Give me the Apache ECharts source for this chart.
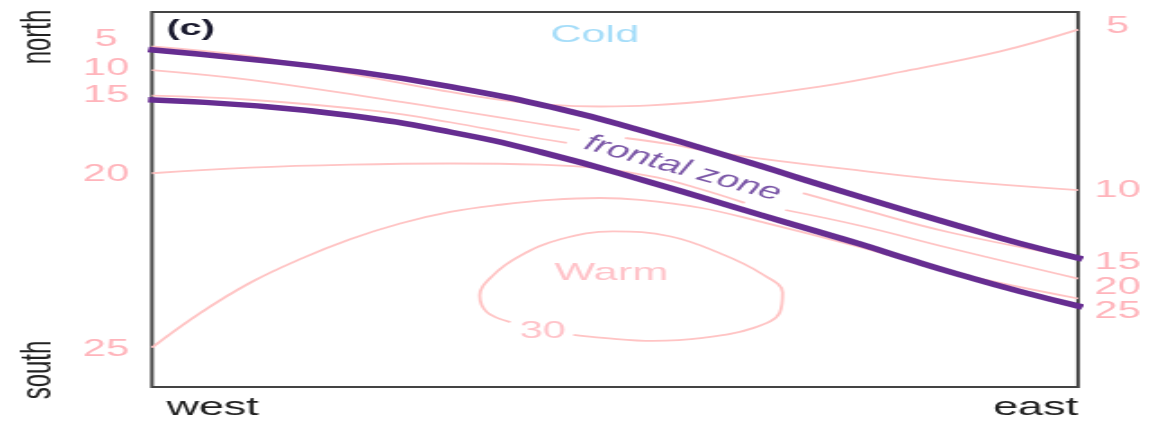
<!DOCTYPE html>
<html>
<head>
<meta charset="utf-8">
<script src="https://cdn.jsdelivr.net/npm/echarts@6/dist/echarts.min.js"></script>
<style>
  html, body { margin: 0; padding: 0; background: #fff; overflow: hidden; }
  /* the source figure is stretched sideways, so draw narrow and stretch the same way */
  #chart { width: 645px; height: 421px; transform: scaleX(1.8); transform-origin: 0 0; }
</style>
</head>
<body>
<div id="chart"></div>
<script>
// x: west (0) -> east (100), y: north (0) -> south (100)
const c5 = [[0, 9.2], [10.6, 11.8], [18.1, 15.0], [26.8, 18.9], [32.2, 21.3], [37.6, 23.4], [42.7, 24.7],
  [48.4, 25.2], [53.8, 24.9], [61.3, 23.4], [72.1, 19.9], [80.8, 16.0], [91.6, 10.5], [100, 4.7]];
const c10West = [[0, 15.5], [10.6, 18.1], [24.6, 23.1], [32.2, 26.0], [40.8, 29.4], [46.2, 31.5]];
const c10East = [[51.1, 33.6], [56.3, 35.4], [59.9, 37.0], [65.7, 39.1], [76.5, 42.3], [86.2, 44.9], [100, 47.5]];
const c15West = [[0, 22.3], [10.6, 23.4], [24.6, 26.5], [32.2, 29.4], [39.7, 32.8], [44.8, 34.9]];
const c15East = [[70.3, 48.3], [76.5, 52.5], [86.2, 58.8], [100, 65.6]];
const c20West = [[0, 43.0], [10.6, 41.5], [21.4, 40.7], [32.2, 40.4], [41.9, 40.7], [48.4, 41.7],
  [54.5, 44.1], [59.2, 47.2], [64.0, 50.9]];
const c20East = [[68.4, 52.8], [76.5, 57.0], [86.2, 63.0], [100, 71.1]];
const c25 = [[0, 89.5], [5.2, 80.3], [10.6, 72.2], [16.0, 65.9], [21.4, 60.6], [26.8, 56.4], [32.2, 53.3],
  [37.6, 51.4], [43.0, 50.1], [48.4, 49.6], [52.7, 50.1], [59.2, 52.2], [65.7, 55.9], [76.5, 62.7],
  [86.2, 69.3], [100, 76.4]];
const c30 = [[45.5, 86.1], [48.7, 86.9], [54.1, 87.7], [59.5, 86.9], [64.9, 84.3], [67.8, 80.1], [68.1, 74.8],
  [65.7, 69.6], [61.3, 64.3], [55.9, 59.8], [49.8, 58.5], [44.1, 60.6], [39.7, 65.1], [36.8, 70.3],
  [35.4, 75.6], [36.2, 80.1], [38.7, 82.7]];

// edges of the frontal zone
const frontNorth = [[-0.4, 10.0], [10.6, 12.6], [21.4, 15.7], [32.2, 19.9], [44.1, 25.9], [52.7, 31.5],
  [64.6, 40.2], [70.0, 44.4], [76.5, 49.3], [81.9, 53.3], [87.3, 57.2], [93.7, 61.7], [100.5, 65.9]];
const frontSouth = [[-0.4, 23.4], [10.6, 24.9], [21.4, 27.6], [32.2, 32.0], [41.9, 37.3], [53.8, 45.4],
  [65.7, 54.1], [71.1, 58.0], [76.5, 61.9], [81.9, 66.1], [87.3, 70.1], [93.7, 74.5], [100.5, 78.7]];

const notes = [['Cold', 47.8, 6.2], ['Warm', 49.6, 69.8], ['30', 42.2, 85.3], ['frontal zone', 57.3, 41.7]];

const contours = [
  { level: 5, parts: [c5] },
  { level: 10, parts: [c10West, c10East] },
  { level: 15, parts: [c15West, c15East] },
  { level: 20, parts: [c20West, c20East] },
  { level: 25, parts: [c25] },
  { level: 30, parts: [c30] }
];

const FONT = '"Liberation Sans", Arial, Helvetica, sans-serif';
const PINK = '#ffc4c4';
const NUM_PINK = '#ffb4bb';
const PURPLE = '#662d91';

// small vertical nudges so the edge numbers don't crowd
const leftNudge = { 5: -7, 10: -1, 15: 0, 20: 1, 25: 2 };
const rightNudge = { 5: -3, 10: 1, 15: 5, 20: 9, 25: 13 };

const noteStyle = {
  'Cold': { color: '#8fd4f7', fontSize: 24 },
  'Warm': { color: NUM_PINK, fontSize: 24 },
  '30': { color: NUM_PINK, fontSize: 23 },
  'frontal zone': { color: '#5a2d91', fontSize: 23, rotate: -26 }
};

function edgeLabel(side, level) {
  return {
    show: true,
    position: side,
    distance: side === 'left' ? 25.5 : 22,
    align: 'center',
    verticalAlign: 'middle',
    offset: [0, (side === 'left' ? leftNudge : rightNudge)[level]],
    formatter: String(level),
    color: NUM_PINK,
    fontSize: 23,
    fontFamily: FONT
  };
}

const chart = echarts.init(document.getElementById('chart'));
let series = [];

contours.forEach((c) => {
  c.parts.forEach((pts, pi) => {
    let data = pts.map((p, i) => {
      let item = { value: p };
      if (c.level !== 30) {
        if (pi === 0 && i === 0) item.label = edgeLabel('left', c.level);
        if (pi === c.parts.length - 1 && i === pts.length - 1) item.label = edgeLabel('right', c.level);
      }
      return item;
    });
    series.push({
      type: 'line',
      data: data,
      smooth: 0.4,
      symbol: 'circle',
      symbolSize: 0,
      showSymbol: true,
      lineStyle: { color: PINK, width: 1.8 },
      itemStyle: { color: PINK },
      label: { show: false },
      silent: true,
      clip: false,
      z: 2
    });
  });
});

[frontNorth, frontSouth].forEach((pts) => {
  series.push({
    type: 'line',
    data: pts,
    smooth: 0.5,
    showSymbol: false,
    symbol: 'none',
    lineStyle: { color: PURPLE, width: 5.5 },
    silent: true,
    clip: false,
    z: 3
  });
});

series.push({
  type: 'scatter',
  symbolSize: 0,
  silent: true,
  z: 4,
  data: notes.map((n) => ({
    value: [n[1], n[2]],
    label: Object.assign({
      show: true,
      position: 'inside',
      formatter: n[0],
      fontFamily: FONT,
      align: 'center',
      verticalAlign: 'middle'
    }, noteStyle[n[0]])
  }))
});

const option = {
  animation: false,
  backgroundColor: '#fff',
  grid: {
    left: 84.4, right: 46.1, top: 12, bottom: 28,
    show: true, borderColor: '#444', borderWidth: 2, backgroundColor: 'transparent'
  },
  xAxis: {
    type: 'value', min: 0, max: 100, interval: 100,
    axisLine: { show: false }, axisTick: { show: false }, splitLine: { show: false },
    axisLabel: {
      margin: 9,
      color: '#222',
      fontSize: 25,
      fontFamily: FONT,
      alignMinLabel: 'left',
      alignMaxLabel: 'right',
      padding: [0, 0, 0, 8],
      formatter: (v) => (v === 0 ? 'west' : v === 100 ? 'east' : '')
    }
  },
  yAxis: {
    type: 'value', min: 0, max: 100, inverse: true, show: false
  },
  graphic: [
    { type: 'text', x: 21.1, y: 37, rotation: Math.PI / 2, silent: true,
      style: { text: 'north', fill: '#222', font: '24px ' + FONT, align: 'center', verticalAlign: 'middle' } },
    { type: 'text', x: 21.1, y: 370, rotation: Math.PI / 2, silent: true,
      style: { text: 'south', fill: '#222', font: '24px ' + FONT, align: 'center', verticalAlign: 'middle' } },
    { type: 'text', x: 92.5, y: 29, silent: true,
      style: { text: '(c)', fill: '#1a1a2e', font: 'bold 22px ' + FONT, align: 'left', verticalAlign: 'middle' } }
  ],
  series: series
};

chart.setOption(option);
</script>
</body>
</html>
